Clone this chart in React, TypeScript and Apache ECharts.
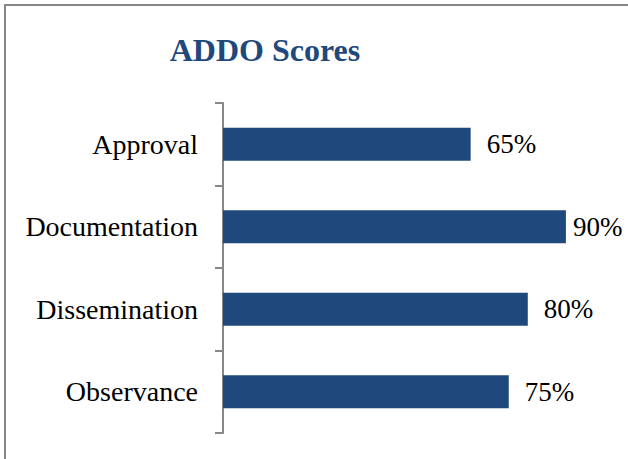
import React, { useEffect, useRef } from "react";
import * as echarts from "echarts";

const categories = ["Approval", "Documentation", "Dissemination", "Observance"];
const scores = [0.65, 0.9, 0.8, 0.75];
const titleText = "ADDO Scores";

export default function App() {
  const ref = useRef<HTMLDivElement>(null);
  useEffect(() => {
    if (!ref.current) return;
    const chart = echarts.init(ref.current, null, { renderer: "svg" });
    const maxScore = Math.max(...scores);
    const seriesData = scores.map((v) =>
      v === maxScore ? { value: v, label: { distance: 7 } } : { value: v }
    );
    chart.setOption({
      animation: false,
      backgroundColor: "#ffffff",
      graphic: [
        {
          type: "rect",
          shape: { x: 5, y: 5, width: 700, height: 600 },
          style: { fill: "none", stroke: "#878787", lineWidth: 2 },
          silent: true,
        },
        {
          type: "text",
          x: 265,
          y: 50,
          style: {
            text: titleText,
            fontFamily: "Liberation Serif",
            fontWeight: "bold",
            fontSize: 32,
            fill: "#1F497D",
            align: "center",
            verticalAlign: "middle",
          },
        },
      ],
      grid: { left: 223, top: 103, width: 381, height: 330, containLabel: false },
      xAxis: {
        type: "value",
        min: 0,
        max: 1,
        show: false,
      },
      yAxis: {
        type: "category",
        data: categories,
        inverse: true,
        axisLine: { show: true, lineStyle: { color: "#878787", width: 2 } },
        axisTick: { show: true, length: 8, lineStyle: { color: "#878787", width: 2 } },
        axisLabel: {
          margin: 25,
          fontFamily: "Liberation Serif",
          fontSize: 28,
          color: "#000000",
        },
        splitLine: { show: false },
      },
      series: [
        {
          type: "bar",
          data: seriesData,
          barWidth: 33,
          itemStyle: { color: "#1F497D" },
          label: {
            show: true,
            position: "right",
            distance: 16,
            fontFamily: "Liberation Serif",
            fontSize: 27,
            color: "#000000",
            formatter: (p: any) => Math.round(p.value * 100) + "%",
          },
        },
      ],
    });
    return () => chart.dispose();
  }, []);
  return (
    <div
      ref={ref}
      style={{ position: "fixed", left: 0, top: 0, width: 628, height: 459 }}
    />
  );
}
